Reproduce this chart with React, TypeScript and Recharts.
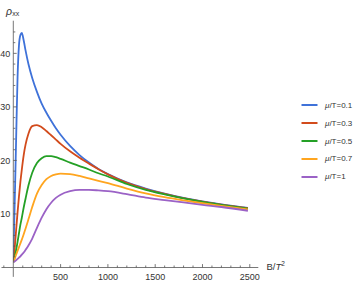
import React from 'react';
import { LineChart, Line, XAxis, YAxis, Legend, ReferenceLine } from 'recharts';

// Magnetic field values B/T^2
const B_VALUES = [0, 10, 20, 30, 45, 60, 75, 90, 110, 130, 160, 200, 250, 300, 350, 400, 450, 500, 600, 700, 800, 900, 1000, 1200, 1400, 1600, 1800, 2000, 2200, 2480];

// rho_xx for each mu/T
const RHO_MU01 = [1.0, 8.5, 16, 24, 35.5, 41.5, 43.4, 43.8, 42.4, 40.5, 38.0, 35.4, 32.8, 30.6, 28.9, 27.4, 26.0, 24.8, 22.7, 21.0, 19.6, 18.4, 17.45, 15.9, 14.75, 13.8, 13.0, 12.35, 11.78, 11.12];
const RHO_MU03 = [1.0, 2.7, 4.8, 7.0, 10.3, 13.3, 16.0, 18.3, 21.0, 23.0, 25.0, 26.4, 26.6, 26.2, 25.5, 24.7, 23.9, 23.1, 21.7, 20.5, 19.4, 18.35, 17.4, 15.8, 14.65, 13.75, 12.95, 12.3, 11.75, 11.1];
const RHO_MU05 = [1.0, 1.6, 2.4, 3.3, 4.8, 6.4, 8.0, 9.3, 11.2, 12.9, 15.3, 17.7, 19.5, 20.4, 20.8, 20.8, 20.6, 20.3, 19.6, 18.95, 18.3, 17.6, 17.0, 15.6, 14.5, 13.65, 12.9, 12.25, 11.7, 11.0];
const RHO_MU07 = [1.0, 1.4, 1.9, 2.4, 3.1, 3.8, 4.5, 5.2, 6.2, 7.3, 9.0, 11.3, 13.8, 15.4, 16.5, 17.1, 17.4, 17.55, 17.45, 17.1, 16.65, 16.2, 15.75, 14.75, 13.85, 13.15, 12.55, 12.0, 11.5, 10.85];
const RHO_MU1 = [1.0, 1.1, 1.2, 1.35, 1.6, 1.85, 2.1, 2.4, 2.8, 3.3, 4.1, 5.4, 7.4, 9.3, 10.9, 12.1, 13.0, 13.6, 14.25, 14.5, 14.5, 14.4, 14.25, 13.7, 13.05, 12.6, 12.15, 11.7, 11.3, 10.6];

const SERIES_VALUES = [RHO_MU01, RHO_MU03, RHO_MU05, RHO_MU07, RHO_MU1];
const SERIES_NAMES = ['μ/T=0.1', 'μ/T=0.3', 'μ/T=0.5', 'μ/T=0.7', 'μ/T=1'];
const SERIES_COLORS = ['#3f72d9', '#d24b1c', '#24a026', '#ffa51f', '#9b62c6'];

const X_TICKS = [0, 100, 200, 300, 400, 500, 600, 700, 800, 900, 1000, 1100, 1200, 1300, 1400, 1500, 1600, 1700, 1800, 1900, 2000, 2100, 2200, 2300, 2400, 2500];
const X_LABEL_TICKS = [500, 1000, 1500, 2000, 2500];
const Y_TICKS = [0, 2, 4, 6, 8, 10, 12, 14, 16, 18, 20, 22, 24, 26, 28, 30, 32, 34, 36, 38, 40, 42, 44];
const Y_LABEL_TICKS = [10, 20, 30, 40];

const data = B_VALUES.map((b, i) => {
  const row: Record<string, number> = { B: b };
  SERIES_VALUES.forEach((s, k) => {
    row['s' + k] = s[i];
  });
  return row;
});

const AXIS = '#555';
const LABEL = '#333';
const FONT = '"Liberation Sans", Arial, sans-serif';

const XTick = (props: any) => {
  const { x, y, payload } = props;
  const v = payload.value;
  if (v === 0) return <g />;
  const major = X_LABEL_TICKS.includes(v);
  return (
    <g>
      <line x1={x} x2={x} y1={y} y2={y - (major ? 3.4 : 2)} stroke={AXIS} strokeWidth={0.8} />
      {major && (
        <text x={x} y={y + 12.5} textAnchor="middle" fontSize={9} fill={LABEL} fontFamily={FONT}>
          {v}
        </text>
      )}
    </g>
  );
};

const YTick = (props: any) => {
  const { x, y, payload } = props;
  const v = payload.value;
  if (v === 0) return <g />;
  const major = Y_LABEL_TICKS.includes(v);
  return (
    <g>
      <line x1={x} x2={x + (major ? 3.4 : 2)} y1={y} y2={y} stroke={AXIS} strokeWidth={0.8} />
      {major && (
        <text x={x - 3} y={y + 3.2} textAnchor="end" fontSize={9} fill={LABEL} fontFamily={FONT}>
          {v}
        </text>
      )}
    </g>
  );
};

const renderName = (name: string) => {
  const rest = name.startsWith('μ') ? name.slice(1) : name;
  return (
    <span>
      <i>μ</i>
      {rest}
    </span>
  );
};

const renderLegend = (props: any) => {
  const payload = props.payload || [];
  return (
    <div style={{ fontFamily: FONT, fontSize: 8, color: LABEL }}>
      {payload.map((p: any, i: number) => (
        <div key={i} style={{ display: 'flex', alignItems: 'center', height: 17.85 }}>
          <svg width={17} height={4} style={{ display: 'block', marginRight: 7 }}>
            <line x1={0.5} x2={16.5} y1={2} y2={2} stroke={p.color} strokeWidth={2} />
          </svg>
          {renderName(String(p.value))}
        </div>
      ))}
    </div>
  );
};

export default function App() {
  return (
    <div style={{ position: 'absolute', left: 0, top: 0, width: 363, height: 284, background: '#fff', fontFamily: FONT }}>
      <LineChart width={363} height={284} data={data} margin={{ top: 20.7, right: 104.7, left: 0, bottom: 0 }}>
        <XAxis
          type="number"
          dataKey="B"
          domain={[0, 2590]}
          ticks={X_TICKS}
          interval={0}
          tick={XTick}
          tickLine={false}
          tickSize={0}
          tickMargin={0}
          axisLine={{ stroke: AXIS, strokeWidth: 0.8 }}
          height={16.5}
          allowDataOverflow
        />
        <YAxis
          type="number"
          domain={[0, 46.1]}
          ticks={Y_TICKS}
          interval={0}
          tick={YTick}
          tickLine={false}
          tickSize={0}
          tickMargin={0}
          axisLine={{ stroke: AXIS, strokeWidth: 0.8 }}
          width={13.3}
          allowDataOverflow
        />
        <ReferenceLine segment={[{ x: -125, y: 0 }, { x: 0, y: 0 }]} stroke={AXIS} strokeWidth={0.8} ifOverflow="visible" />
        <ReferenceLine segment={[{ x: -100, y: 0 }, { x: -100, y: 0.38 }]} stroke={AXIS} strokeWidth={0.8} ifOverflow="visible" />
        <ReferenceLine segment={[{ x: 0, y: -1.75 }, { x: 0, y: 0 }]} stroke={AXIS} strokeWidth={0.8} ifOverflow="visible" />
        {SERIES_NAMES.map((name, k) => (
          <Line
            key={name}
            type="monotone"
            dataKey={'s' + k}
            name={name}
            stroke={SERIES_COLORS[k]}
            strokeWidth={1.8}
            dot={false}
            activeDot={false}
            isAnimationActive={false}
          />
        ))}
        <Legend
          layout="horizontal"
          verticalAlign="middle"
          align="center"
          content={renderLegend}
          wrapperStyle={{ left: 301, top: 96.4, width: 62, height: 90 }}
        />
      </LineChart>
      <svg width={363} height={284} style={{ position: 'absolute', left: 0, top: 0, pointerEvents: 'none' }}>
        <text x={6} y={15} fontSize={10.5} fontStyle="italic" fill={LABEL} fontFamily={FONT}>ρ</text>
        <text x={12.3} y={16.2} fontSize={7} fill={LABEL} fontFamily={FONT}>xx</text>
        <text x={266.5} y={270} fontSize={9.5} fill={LABEL} fontFamily={FONT}>
          B/<tspan fontStyle="italic">T</tspan>
          <tspan dy={-4} fontSize={6.5}>2</tspan>
        </text>
      </svg>
    </div>
  );
}
